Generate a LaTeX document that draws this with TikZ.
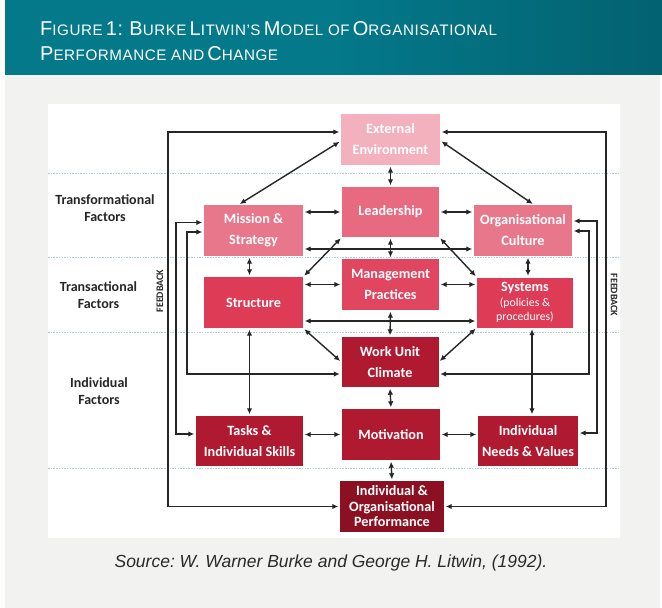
\documentclass[tikz,border=0pt]{standalone}
\usepackage{fontspec}
\setmainfont{Carlito}
\newfontfamily\hdrfont[LetterSpace=3.5]{Liberation Sans}
\newfontfamily\capfont{Liberation Sans}
\usetikzlibrary{arrows.meta,calc}
\definecolor{tealA}{HTML}{03798A}
\definecolor{tealB}{HTML}{034A57}
\definecolor{panelgrey}{HTML}{F2F2F0}
\definecolor{sepc}{HTML}{B4CCD8}
\definecolor{arrowc}{HTML}{262626}
\definecolor{cExt}{HTML}{F3B1BD}
\definecolor{cLead}{HTML}{E86A80}
\definecolor{cMis}{HTML}{E9778B}
\definecolor{cMid}{HTML}{DE3B57}
\definecolor{cMgmt}{HTML}{E0465F}
\definecolor{cLow}{HTML}{B01A31}
\definecolor{cPerf}{HTML}{8B1022}
\definecolor{capc}{HTML}{2A2A2A}
\pgfdeclarehorizontalshading{hdrshade}{100bp}{color(0bp)=(tealA); color(50bp)=(tealA); color(100bp)=(tealB)}
\newcommand\tbg[1]{{\fontsize{20}{21}\selectfont #1}}
\newcommand\tsm[1]{{\fontsize{15.2}{16}\selectfont #1}}
\frenchspacing
\tikzset{
  box/.style={rectangle, inner sep=0pt, text=white, align=center,
    font=\fontsize{14.2}{21}\selectfont\bfseries},
  conn/.style={draw=arrowc, line width=1.4pt,
    {Latex[length=6pt,width=5.5pt]}-{Latex[length=6pt,width=5.5pt]},
    shorten >=1.5pt, shorten <=1.5pt},
  sepline/.style={draw=sepc, line width=0.8pt, dash pattern=on 1.5pt off 1.2pt},
  sidelabel/.style={align=center, text=arrowc, font=\fontsize{14}{17}\selectfont\bfseries},
  fbtext/.style={text=arrowc, font=\fontsize{10}{10}\selectfont\bfseries},
  titletext/.style={text=white, inner sep=0pt, font=\hdrfont}
}
\begin{document}
\begin{tikzpicture}[x=1pt,y=-1pt]
\useasboundingbox (0,0) rectangle (662,608);
\fill[white] (0,0) rectangle (662,608);
\fill[panelgrey] (5,74) rectangle (660,608);
\shade[shading=hdrshade] (5,0) rectangle (662,74);
\node[titletext, anchor=base west] (t1) at (40,35) {\tbg{F}\tsm{IGURE} \tbg{1: B}\tsm{URKE} \tbg{L}\tsm{ITWIN’S} \tbg{M}\tsm{ODEL OF} \tbg{O}\tsm{RGANISATIONAL}};
\node[titletext, anchor=base west] (t2) at (40,60) {\tbg{P}\tsm{ERFORMANCE AND} \tbg{C}\tsm{HANGE}};

\fill[white] (48,104) rectangle (620,538);
\foreach \yy in {173,257,332,468} \draw[sepline] (48,\yy) -- (620,\yy);

% side labels
\node[sidelabel] (ltf) at (105,208.5) {Transformational\\Factors};
\node[sidelabel] (ltr) at (98.5,295.5) {Transactional\\Factors};
\node[sidelabel] (lin) at (99,391.5) {Individual\\Factors};
\node[fbtext, rotate=90] (fbl) at (160,291) {FEEDBACK};
\node[fbtext, rotate=-90] (fbr) at (614,295) {FEEDBACK};

% boxes
\node[box, fill=cExt, minimum width=99pt, minimum height=51pt] (ext) at (390.5,139.5) {External\\Environment};
\node[box, fill=cLead, minimum width=97pt, minimum height=50pt] (lead) at (390.5,212) {Leadership};
\node[box, fill=cMis, minimum width=99pt, minimum height=51pt] (mis) at (253.5,230.5) {Mission \&\\Strategy};
\node[box, fill=cMis, minimum width=98pt, minimum height=51pt] (cul) at (523,230.5) {Organisational\\Culture};
\node[box, fill=cMid, minimum width=99pt, minimum height=51pt] (str) at (253.5,302.5) {Structure};
\node[box, fill=cMgmt, minimum width=97pt, minimum height=51pt] (mgt) at (390.5,284.5) {Management\\Practices};
\node[box, fill=cMid, minimum width=96pt, minimum height=50pt, font=\fontsize{14.2}{14.5}\selectfont\bfseries] (sys) at (525,302.5) {Systems\\{\mdseries\fontsize{11.8}{14.5}\selectfont (policies \&}\\{\mdseries\fontsize{11.8}{14.5}\selectfont procedures)}};
\node[box, fill=cLow, minimum width=97pt, minimum height=50pt] (wuc) at (390,362) {Work Unit\\Climate};
\node[box, fill=cLow, minimum width=107pt, minimum height=50pt] (tsk) at (249.5,441) {Tasks \&\\Individual Skills};
\node[box, fill=cLow, minimum width=98pt, minimum height=51pt] (mot) at (391,434.5) {Motivation};
\node[box, fill=cLow, minimum width=100pt, minimum height=50pt] (ind) at (528,441) {Individual\\Needs \& Values};
\node[box, fill=cPerf, minimum width=104pt, minimum height=51pt, font=\fontsize{14.2}{15.5}\selectfont\bfseries] (prf) at (392,506.5) {Individual \&\\Organisational\\Performance};

% feedback corner coordinates
\coordinate (fbL) at (168,300);
\coordinate (fbR) at (606,300);
\coordinate (fbA) at (176,300);
\coordinate (fbB) at (187,300);
\coordinate (fbC) at (597,300);
\coordinate (fbD) at (589,300);

% connectors
\draw[conn] (ext.south) -- (lead.north);
\draw[conn] ([xshift=-15pt]mis.north) -- ([yshift=-1.5pt]ext.west);
\draw[conn] ([yshift=-1pt]ext.east) -- ([xshift=11pt]cul.north);
\draw[conn] ([yshift=7.5pt]ext.west) -| (fbL) |- (prf.west);
\draw[conn] ([yshift=7.5pt]ext.east) -| (fbR) |- (prf.east);
\draw[conn] ([yshift=8pt]mis.west) -| (fbA) |- ([yshift=7pt]tsk.west);
\draw[conn] ([yshift=-1.5pt]mis.west) -| (fbB) |- ([yshift=-12pt]wuc.west);
\draw[conn] ([yshift=9.5pt]cul.east) -| (fbC) |- ([yshift=8pt]ind.east);
\draw[conn] ([yshift=-0.5pt]cul.east) -| (fbD) |- ([yshift=-12pt]wuc.east);
\draw[conn] (lead.west) -- (lead.west -| mis.east);
\draw[conn] (lead.east) -- (lead.east -| cul.west);
\draw[conn] ([yshift=-18.5pt]mis.east) -- ([yshift=-18.5pt]mis.east -| cul.west);
\draw[conn] (lead.south) -- (mgt.north);
\draw[conn] (lead.south west) -- (str.north east);
\draw[conn] (lead.south east) -- (sys.north west);
\draw[conn] ([xshift=-4pt]mis.south) -- ([xshift=-4pt]str.north);
\draw[conn] (mgt.west) -- (mgt.west -| str.east);
\draw[conn] (mgt.east) -- (mgt.east -| sys.west);
\draw[conn] ([yshift=-18.5pt]str.east) -- ([yshift=-18.5pt]str.east -| sys.west);
\draw[conn] (mgt.south) -- (wuc.north);
\draw[conn] (str.south east) -- (wuc.west);
\draw[conn] (sys.south west) -- (wuc.east);
\draw[conn] (tsk.north) -- (tsk.north |- str.south);
\draw[conn] (mot.west) -- (mot.west -| tsk.east);
\draw[conn] (wuc.south) -- (mot.north);
\draw[conn] (mot.east) -- (mot.east -| ind.west);
\draw[conn] ([xshift=4pt]ind.north) -- ([xshift=4pt]ind.north |- sys.south);
\draw[conn] (mot.south) -- (prf.north);
\draw[conn] ([xshift=5pt]cul.south) -- ([xshift=5pt]cul.south |- sys.north);

\node[text=capc, font=\capfont\itshape\fontsize{17.5}{19}\selectfont] (cap) at (331,563) {Source: W. Warner Burke and George H. Litwin, (1992).};
\end{tikzpicture}
\end{document}
